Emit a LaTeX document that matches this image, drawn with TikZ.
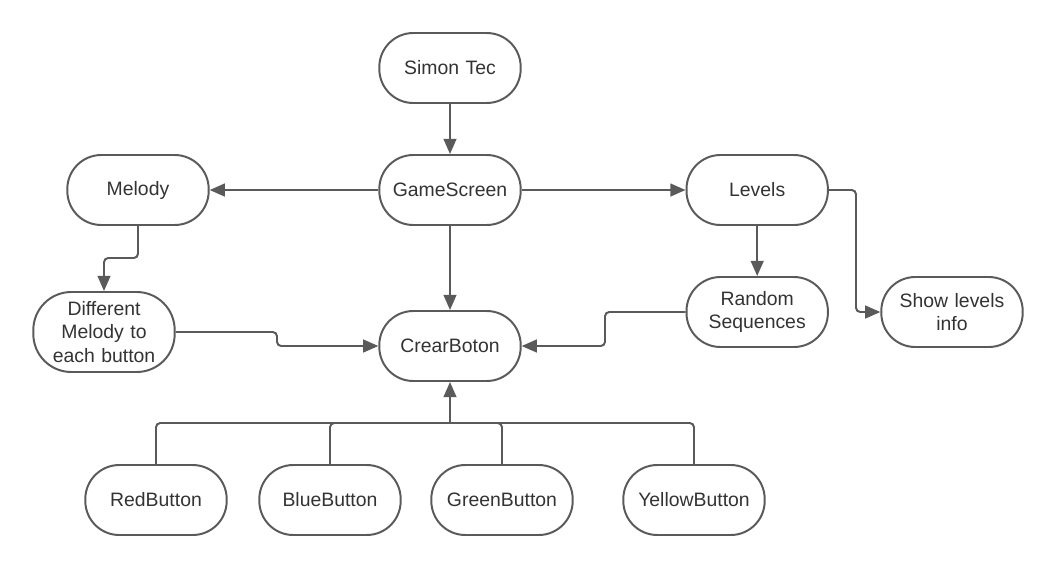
\documentclass[tikz,border=0pt]{standalone}
\usepackage{fontspec}
\setmainfont{Liberation Sans}
\usetikzlibrary{arrows.meta}
\definecolor{edge}{HTML}{5A5A5A}
\definecolor{ink}{HTML}{333333}
\begin{document}
\begin{tikzpicture}[
    block/.style={rectangle, draw=edge, fill=white, line width=1.4pt, rounded corners=0.85cm, minimum width=3.5cm, minimum height=1.75cm, text width=3.3cm, align=center, text=ink, font=\fontsize{13.8}{16.5}\selectfont},
    tall/.style={minimum height=2cm, rounded corners=0.95cm},
    line/.style={draw=edge, line width=1.4pt, rounded corners=3pt},
    arrow/.style={line, -{Triangle[length=0.38cm, width=0.32cm]}}
]
    \useasboundingbox (0,0) rectangle (26.375,-14.275);

    % Top level
    \node [block] (simon) at (11.25,-1.7) {Simon Tec};
    \node [block] (gs) at (11.25,-4.75) {GameScreen};
    \node [block] (melody) at (3.45,-4.75) {Melody};
    \node [block] (levels) at (18.93,-4.75) {Levels};

    % Middle level
    \node [block, tall] (diff) at (2.6,-8.3) {Different\\Melody to\\each button};
    \node [block] (crear) at (11.25,-8.65) {CrearBoton};
    \node [block] (random) at (18.93,-7.8) {Random\\Sequences};
    \node [block] (show) at (23.8,-7.8) {Show levels\\info};

    % Buttons
    \node [block, minimum width=3.45cm] (red) at (3.9,-12.5) {RedButton};
    \node [block] (blue) at (8.25,-12.5) {BlueButton};
    \node [block, minimum width=3.45cm] (green) at (12.55,-12.5) {GreenButton};
    \node [block, minimum width=3.45cm] (yellow) at (17.35,-12.5) {YellowButton};

    % Bends
    \coordinate (mbend) at (3.45,-6.45);
    \coordinate (dbend) at (6.925,-8.3);
    \coordinate (rbend) at (15.125,-7.8);
    \coordinate (lbend) at (21.4,-4.75);
    \coordinate (bus) at (11.25,-10.575);

    % Arrows
    \draw [arrow] (simon) -- (gs);
    \draw [arrow] (gs) -- (melody);
    \draw [arrow] (gs) -- (levels);
    \draw [arrow] (gs) -- (crear);
    \draw [arrow] (levels) -- (random);
    \draw [arrow] (melody.south) -- (mbend) -| (diff.north);
    \draw [arrow] (diff.east) -- (dbend) |- (crear.west);
    \draw [arrow] (random.west) -- (rbend) |- (crear.east);
    \draw [arrow] (levels.east) -- (lbend) |- (show.west);

    % Button bus
    \draw [line] (red.north) |- (bus);
    \draw [line] (blue.north) |- (bus);
    \draw [line] (green.north) |- (bus);
    \draw [line] (yellow.north) |- (bus);
    \draw [arrow] (bus) -- (crear.south);
\end{tikzpicture}
\end{document}
